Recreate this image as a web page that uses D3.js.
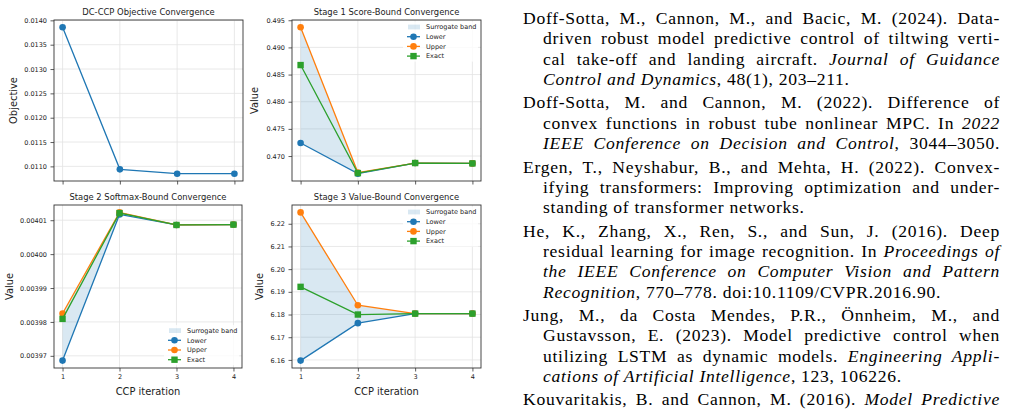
<!DOCTYPE html>
<html>
<head>
<meta charset="utf-8">
<script src="https://cdn.jsdelivr.net/npm/d3@7"></script>
<style>
  body { margin: 0; background: #fff; }
</style>
</head>
<body>
<svg id="fig" width="1036" height="418"></svg>
<script>
// ---- chart values ----
const iterations = [1, 2, 3, 4];

const objective = [0.013857, 0.010939, 0.01085, 0.01085];

const stage1Lower = [0.4724, 0.46675, 0.46871, 0.46864];
const stage1Upper = [0.4937, 0.46695, 0.46871, 0.46864];
const stage1Exact = [0.48675, 0.46686, 0.46871, 0.46864];

const stage2Lower = [0.0039686, 0.0040117, 0.0040086, 0.0040087];
const stage2Upper = [0.0039825, 0.0040123, 0.0040086, 0.0040087];
const stage2Exact = [0.0039809, 0.0040121, 0.0040086, 0.0040087];

const stage3Lower = [6.1597, 6.1762, 6.1804, 6.1804];
const stage3Upper = [6.2250, 6.1841, 6.1804, 6.1804];
const stage3Exact = [6.1922, 6.1800, 6.1804, 6.1804];

const objTicks = [0.0110, 0.0115, 0.0120, 0.0125, 0.0130, 0.0135, 0.0140];
const stage1Ticks = [0.470, 0.475, 0.480, 0.485, 0.490, 0.495];
const stage2Ticks = [0.00397, 0.00398, 0.00399, 0.00400, 0.00401];
const stage3Ticks = [6.16, 6.17, 6.18, 6.19, 6.20, 6.21, 6.22];

const legendLabels = ['Surrogate band', 'Lower', 'Upper', 'Exact'];

// bibliography lines as they are broken in the page
// (*...* = italic, trailing ~ = last line that still runs to the margin)
const refEntries = [
  ["Doff-Sotta, M., Cannon, M., and Bacic, M. (2024). Data-",
   "driven robust model predictive control of tiltwing verti-",
   "cal take-off and landing aircraft. *Journal of Guidance*",
   "*Control and Dynamics*, 48(1), 203–211."],
  ["Doff-Sotta, M. and Cannon, M. (2022). Difference of",
   "convex functions in robust tube nonlinear MPC. In *2022*",
   "*IEEE Conference on Decision and Control*, 3044–3050.~"],
  ["Ergen, T., Neyshabur, B., and Mehta, H. (2022). Convex-",
   "ifying transformers: Improving optimization and under-",
   "standing of transformer networks."],
  ["He, K., Zhang, X., Ren, S., and Sun, J. (2016). Deep",
   "residual learning for image recognition. In *Proceedings of*",
   "*the IEEE Conference on Computer Vision and Pattern*",
   "*Recognition*, 770–778. doi:10.1109/CVPR.2016.90."],
  ["Jung, M., da Costa Mendes, P.R., Önnheim, M., and",
   "Gustavsson, E. (2023). Model predictive control when",
   "utilizing LSTM as dynamic models. *Engineering Appli-*",
   "*cations of Artificial Intelligence*, 123, 106226."],
  ["Kouvaritakis, B. and Cannon, M. (2016). *Model Predictive*"]
];

// ---- styling ----
const blue = '#1f77b4', orange = '#ff7f0e', green = '#2ca02c';
const sansFace = '"DejaVu Sans"';
const serifFace = '"Liberation Serif"';
const tickSize = 6.5, titleSize = 8.4, labelSize = 9.9;

const svg = d3.select('#fig');

// ---- bibliography column (drawn first) ----
const textLeft = 523, hang = 20, textRight = 1000;
const baseline0 = 24, lineSkip = 20.3, entrySkip = 3.2;
const refSize = 17.6;

const refLines = [];
let yPos = baseline0;
refEntries.forEach((entry, ei) => {
  entry.forEach((raw, li) => {
    const full = raw.endsWith('~');
    const str = full ? raw.slice(0, -1) : raw;
    refLines.push({
      str, y: yPos,
      left: li === 0 ? textLeft : textLeft + hang,
      justify: full || li < entry.length - 1 || ei === refEntries.length - 1
    });
    yPos += lineSkip;
  });
  yPos += entrySkip;
});

const refs = svg.append('g');
refLines.forEach(d => {
  d.node = refs.append('text')
    .attr('x', d.left).attr('y', d.y)
    .attr('font-family', 'Liberation Serif').style('font-family', serifFace)
    .attr('font-size', refSize).attr('fill', '#000');
  d.str.split('*').forEach((part, i) => {
    if (!part) return;
    d.node.append('tspan').style('font-family', serifFace)
      .style('font-style', i % 2 ? 'italic' : 'normal').text(part);
  });
  d.natural = d.node.node().getComputedTextLength();
  d.target = textRight - d.left;
  d.spaces = (d.str.match(/ /g) || []).length;
  d.chars = d.str.replace(/\*/g, '').length;
});

// the serif face is narrower than the original: open the tracking a little,
// as much as the tightest justified line allows
const tracking = d3.min(refLines.filter(d => d.justify),
  d => (d.target - d.natural - d.spaces * 1.2) / d.chars);

refLines.forEach(d => {
  d.node.style('letter-spacing', `${tracking}px`);
  let w = d.node.node().getComputedTextLength();
  if (Math.abs(w - d.natural) < 0.5) w += tracking * d.chars;
  if (d.justify && d.spaces) d.node.style('word-spacing', `${(d.target - w) / d.spaces}px`);
});

// ---- the four axes ----
const panels = [
  { title: 'DC-CCP Objective Convergence', box: [54, 243, 20, 181], ylabel: 'Objective', ylabelX: 13.5,
    ticks: objTicks, fmt: '.4f', xLabels: false, band: null, legend: null,
    series: [{ values: objective, color: blue, marker: 'circle' }] },
  { title: 'Stage 1 Score-Bound Convergence', box: [292, 481, 20, 181], ylabel: 'Value', ylabelX: 255,
    ticks: stage1Ticks, fmt: '.3f', xLabels: false, band: [stage1Lower, stage1Upper], legend: 'upper',
    series: [{ values: stage1Lower, color: blue, marker: 'circle' },
             { values: stage1Upper, color: orange, marker: 'circle' },
             { values: stage1Exact, color: green, marker: 'square' }] },
  { title: 'Stage 2 Softmax-Bound Convergence', box: [54, 242, 205, 368], ylabel: 'Value', ylabelX: 10,
    ticks: stage2Ticks, fmt: '.5f', xLabels: true, band: [stage2Lower, stage2Upper], legend: 'lower',
    series: [{ values: stage2Lower, color: blue, marker: 'circle' },
             { values: stage2Upper, color: orange, marker: 'circle' },
             { values: stage2Exact, color: green, marker: 'square' }] },
  { title: 'Stage 3 Value-Bound Convergence', box: [292, 481, 205, 368], ylabel: 'Value', ylabelX: 260,
    ticks: stage3Ticks, fmt: '.2f', xLabels: true, band: [stage3Lower, stage3Upper], legend: 'upper',
    series: [{ values: stage3Lower, color: blue, marker: 'circle' },
             { values: stage3Upper, color: orange, marker: 'circle' },
             { values: stage3Exact, color: green, marker: 'square' }] }
];

const drawMarker = (g, type, color, cx, cy) => {
  if (type === 'circle') {
    g.append('circle').attr('cx', cx).attr('cy', cy).attr('r', 3.3).attr('fill', color);
  } else {
    g.append('rect').attr('x', cx - 3.2).attr('y', cy - 3.2)
      .attr('width', 6.4).attr('height', 6.4).attr('fill', color);
  }
};

const drawPanel = (p) => {
  const [left, right, top, bottom] = p.box;
  const g = svg.append('g');

  // matplotlib-like 5% margins
  const [xmin, xmax] = d3.extent(iterations);
  const xpad = (xmax - xmin) * 0.05;
  const [ymin, ymax] = d3.extent(p.series.flatMap(s => s.values));
  const ypad = (ymax - ymin) * 0.05;

  const x = d3.scaleLinear().domain([xmin - xpad, xmax + xpad]).range([left, right]);
  const y = d3.scaleLinear().domain([ymin - ypad, ymax + ypad]).range([bottom, top]);

  // grid
  const grid = g.append('g').attr('stroke', '#e3e3e3').attr('stroke-width', 0.8);
  grid.selectAll('.gx').data(iterations).join('line')
    .attr('x1', d => x(d)).attr('x2', d => x(d)).attr('y1', top).attr('y2', bottom);
  grid.selectAll('.gy').data(p.ticks).join('line')
    .attr('x1', left).attr('x2', right).attr('y1', d => y(d)).attr('y2', d => y(d));

  // band
  if (p.band) {
    const [lo, hi] = p.band;
    g.append('path')
      .datum(iterations.map((it, i) => ({ it, lo: lo[i], hi: hi[i] })))
      .attr('d', d3.area().x(d => x(d.it)).y0(d => y(d.lo)).y1(d => y(d.hi)))
      .attr('fill', blue).attr('fill-opacity', 0.17);
  }

  // lines + markers
  p.series.forEach(s => {
    g.append('path')
      .datum(s.values)
      .attr('d', d3.line().x((d, i) => x(iterations[i])).y(d => y(d)))
      .attr('fill', 'none').attr('stroke', s.color).attr('stroke-width', 1.3);
    s.values.forEach((v, i) => drawMarker(g, s.marker, s.color, x(iterations[i]), y(v)));
  });

  // axes
  const yAxis = g.append('g').attr('transform', `translate(${left},0)`)
    .call(d3.axisLeft(y).tickValues(p.ticks).tickFormat(d3.format(p.fmt)).tickSize(3.5).tickPadding(3.5));
  const xAxis = g.append('g').attr('transform', `translate(0,${bottom})`)
    .call(d3.axisBottom(x).tickValues(iterations)
      .tickFormat(p.xLabels ? d3.format('d') : '').tickSize(3.5).tickPadding(3));
  [xAxis, yAxis].forEach(a => {
    a.select('.domain').remove();
    a.attr('font-size', tickSize).attr('font-family', 'DejaVu Sans');
    a.selectAll('.tick line').attr('stroke', '#333').attr('stroke-width', 0.8);
    a.selectAll('.tick text').style('font-family', sansFace).attr('fill', '#222');
  });

  // spines
  g.append('rect').attr('x', left).attr('y', top)
    .attr('width', right - left).attr('height', bottom - top)
    .attr('fill', 'none').attr('stroke', '#333').attr('stroke-width', 0.9);

  // titles
  g.append('text').attr('x', (left + right) / 2).attr('y', top - 5.5)
    .attr('text-anchor', 'middle').style('font-family', sansFace).attr('font-size', titleSize)
    .attr('fill', '#222').text(p.title);
  g.append('text')
    .attr('transform', `translate(${p.ylabelX},${(top + bottom) / 2}) rotate(-90)`)
    .attr('dy', '0.35em').attr('text-anchor', 'middle')
    .style('font-family', sansFace).attr('font-size', labelSize).attr('fill', '#222').text(p.ylabel);
  if (p.xLabels) {
    g.append('text').attr('x', (left + right) / 2).attr('y', bottom + 26.5)
      .attr('text-anchor', 'middle').style('font-family', sansFace).attr('font-size', labelSize)
      .attr('fill', '#222').text('CCP iteration');
  }

  // legend
  if (p.legend) {
    const rowGap = 9.7;
    const firstRow = p.legend === 'upper' ? top + 7 : bottom - 8.3 - rowGap * 3;
    const lg = g.append('g');
    lg.append('rect').attr('x', right - 78).attr('y', firstRow - 5.5)
      .attr('width', 75).attr('height', rowGap * 3 + 11)
      .attr('fill', '#fff').attr('fill-opacity', 0.8);
    const handles = [null, ...p.series];
    legendLabels.forEach((lab, i) => {
      const ry = firstRow + i * rowGap;
      if (i === 0) {
        lg.append('rect').attr('x', right - 73).attr('y', ry - 2.4)
          .attr('width', 12).attr('height', 4.8).attr('fill', blue).attr('fill-opacity', 0.17);
      } else {
        const s = handles[i];
        lg.append('line').attr('x1', right - 74).attr('x2', right - 61).attr('y1', ry).attr('y2', ry)
          .attr('stroke', s.color).attr('stroke-width', 1.3);
        drawMarker(lg, s.marker, s.color, right - 67.5, ry);
      }
      lg.append('text').attr('x', right - 55).attr('y', ry).attr('dy', '0.35em')
        .style('font-family', sansFace).attr('font-size', tickSize).attr('fill', '#222').text(lab);
    });
  }
};

panels.forEach(drawPanel);
</script>
</body>
</html>
